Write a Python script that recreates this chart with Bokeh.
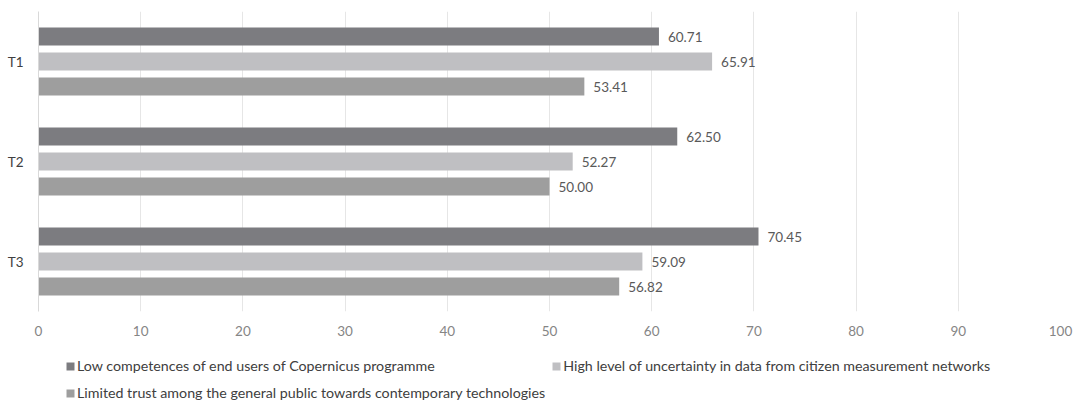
from bokeh.plotting import figure
from bokeh.layouts import column
from bokeh.models import FactorRange, Range1d, Legend, LegendItem, ColumnDataSource, FixedTicker
from bokeh.transform import dodge
from bokeh.core.properties import value
from bokeh.embed import file_html
from bokeh.resources import INLINE

categories = ["T1", "T2", "T3"]
series_names = [
    "Low competences of end users of Copernicus programme",
    "High level of uncertainty in data from citizen measurement networks",
    "Limited trust among the general public towards contemporary technologies",
]
low_competences = [60.71, 62.50, 70.45]
high_uncertainty = [65.91, 52.27, 59.09]
limited_trust = [53.41, 50.00, 56.82]
x_ticks = [0, 10, 20, 30, 40, 50, 60, 70, 80, 90, 100]

series_values = [low_competences, high_uncertainty, limited_trust]
colors = ["#7c7c80", "#bfbfc2", "#9e9e9e"]
offsets = [0.25, 0.0, -0.25]
FONT = "Lato"

p = figure(
    width=1083, height=346,
    y_range=FactorRange(*reversed(categories)),
    x_range=Range1d(0, 100),
    output_backend="svg", toolbar_location=None,
    min_border_left=38, min_border_right=23, min_border_top=11, min_border_bottom=35,
)
p.outline_line_color = None

for name, vals, col, off in zip(series_names, series_values, colors, offsets):
    src = ColumnDataSource(dict(cat=categories, val=vals, lab=[f"{v:.2f}" for v in vals]))
    p.hbar(y=dodge("cat", off, range=p.y_range), right="val", left=0, height=0.18,
           source=src, fill_color=col, line_color=None)
    p.text(x="val", y=dodge("cat", off, range=p.y_range), text="lab", source=src,
           x_offset=9, text_baseline="middle", text_align="left",
           text_font=value(FONT), text_font_size="13.5px", text_color="#595959")

# axes
p.xaxis.ticker = FixedTicker(ticks=x_ticks)
p.xaxis.axis_line_color = None
p.xaxis.major_tick_line_color = None
p.xaxis.minor_tick_line_color = None
p.xaxis.major_label_standoff = 8
p.xaxis.major_label_text_font = FONT
p.xaxis.major_label_text_font_size = "13.5px"
p.xaxis.major_label_text_color = "#858585"

p.yaxis.axis_line_color = "#d9d9d9"
p.yaxis.major_tick_line_color = None
p.yaxis.minor_tick_line_color = None
p.yaxis.major_label_standoff = 9
p.yaxis.major_label_text_font = FONT
p.yaxis.major_label_text_font_size = "13.5px"
p.yaxis.major_label_text_color = "#404040"

p.xgrid.ticker = FixedTicker(ticks=x_ticks)
p.xgrid.grid_line_color = "#e6e6e6"
p.ygrid.grid_line_color = None

# legend strip below the chart (proxy glyphs lie outside its visible range)
lg = figure(
    width=1083, height=54, x_range=Range1d(0, 1), y_range=Range1d(0, 1),
    output_backend="svg", toolbar_location=None,
    x_axis_location=None, y_axis_location=None,
    min_border=0, min_border_left=0, min_border_right=0, min_border_top=0, min_border_bottom=0,
)
lg.outline_line_color = None
lg.grid.grid_line_color = None
items = []
for name, col in zip(series_names, colors):
    proxy = ColumnDataSource(dict(y=[-5.0], left=[0.0], right=[0.0]))
    r = lg.hbar(y="y", right="right", left="left", height=0.1, source=proxy,
                fill_color=col, line_color=None)
    items.append(LegendItem(label=name, renderers=[r]))

legend = Legend(
    items=items, location=(27, -3), orientation="horizontal", ncols=2,
    glyph_width=10, glyph_height=10, label_standoff=2, spacing=6,
    padding=0, margin=0, border_line_color=None, background_fill_alpha=0,
    label_text_font=FONT, label_text_font_size="14.25px", label_text_color="#404040",
    label_height=21,
)
lg.add_layout(legend, "center")

layout = column(p, lg, spacing=0)
open("out.html", "w").write(file_html(layout, INLINE))
